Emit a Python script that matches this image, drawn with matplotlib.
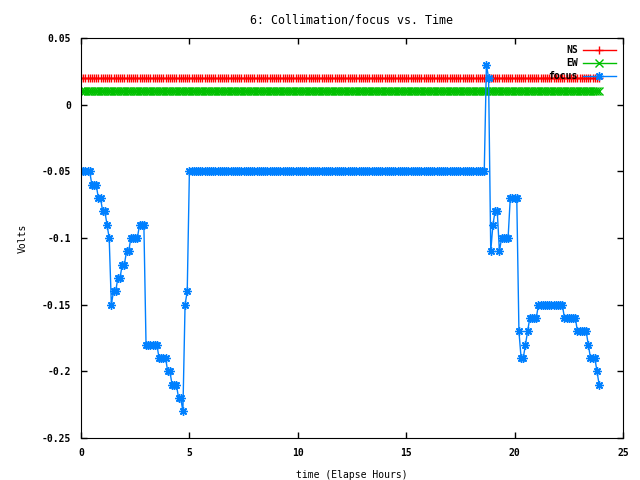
import numpy as np
import matplotlib
matplotlib.use("Agg")
import matplotlib.pyplot as plt

plt.rcParams['font.family'] = ['DejaVu Sans Mono']
plt.rcParams['font.size'] = 7
plt.rcParams['font.weight'] = 'bold'

# sampling every 0.1 h (elapsed hours)
step_hours = 0.1

# NS / EW are flat over the whole run
ns_level = 0.02
ew_level = 0.01

focus_levels = [-0.05, -0.06, -0.07, -0.08, -0.09, -0.10, -0.15, -0.14, -0.13, -0.12,
                -0.11, -0.10, -0.09, -0.18, -0.19, -0.20, -0.21, -0.22, -0.23, -0.15,
                -0.14, -0.05, 0.03, 0.02, -0.11, -0.09, -0.08, -0.11, -0.10, -0.07,
                -0.17, -0.19, -0.18, -0.17, -0.16, -0.15, -0.16, -0.17, -0.18, -0.19,
                -0.20, -0.21]
focus_counts = [5, 3, 2, 2, 1, 1, 1, 2, 2, 2,
                2, 4, 3, 6, 4, 2, 3, 2, 1, 1,
                1, 137, 1, 1, 1, 1, 2, 1, 4, 4,
                1, 2, 1, 1, 4, 12, 6, 5, 1, 3,
                1, 1]

focus = np.repeat(focus_levels, focus_counts)
hours = np.arange(len(focus)) * step_hours
ns = np.full(len(hours), ns_level)
ew = np.full(len(hours), ew_level)

fig = plt.figure(figsize=(6.4, 4.8), dpi=100)
ax = fig.add_axes([81/640, 1-438/480, (623-81)/640, (438-38)/480])

ax.plot(hours, ns, color='#ff0000', lw=1, marker='+', ms=5.5, mew=1, label='NS')
ax.plot(hours, ew, color='#00c000', lw=1, marker='x', ms=5.5, mew=1, label='EW')
ax.plot(hours, focus, color='#0080ff', lw=1, marker=(8, 2, 0), ms=6, mew=1, label='focus')

ax.set_xlim(0, 25)
ax.set_ylim(-0.25, 0.05)
ax.set_xticks([0, 5, 10, 15, 20, 25])
ax.set_yticks([0.05, 0, -0.05, -0.1, -0.15, -0.2, -0.25])
ax.set_yticklabels(['0.05', '0', '-0.05', '-0.1', '-0.15', '-0.2', '-0.25'])
ax.tick_params(direction='in', length=4, width=1, top=True, right=True, pad=7)

ax.set_title('6: Collimation/focus vs. Time', pad=10.5)
ax.set_xlabel('time (Elapse Hours)', labelpad=8.5)
ax.set_ylabel('Volts', labelpad=10.5)

ax.legend(loc='upper right', frameon=False, markerfirst=False, handlelength=3.4,
          handletextpad=0.5, labelspacing=0.3, borderaxespad=0.35)

fig.savefig('out.png', dpi=100)
